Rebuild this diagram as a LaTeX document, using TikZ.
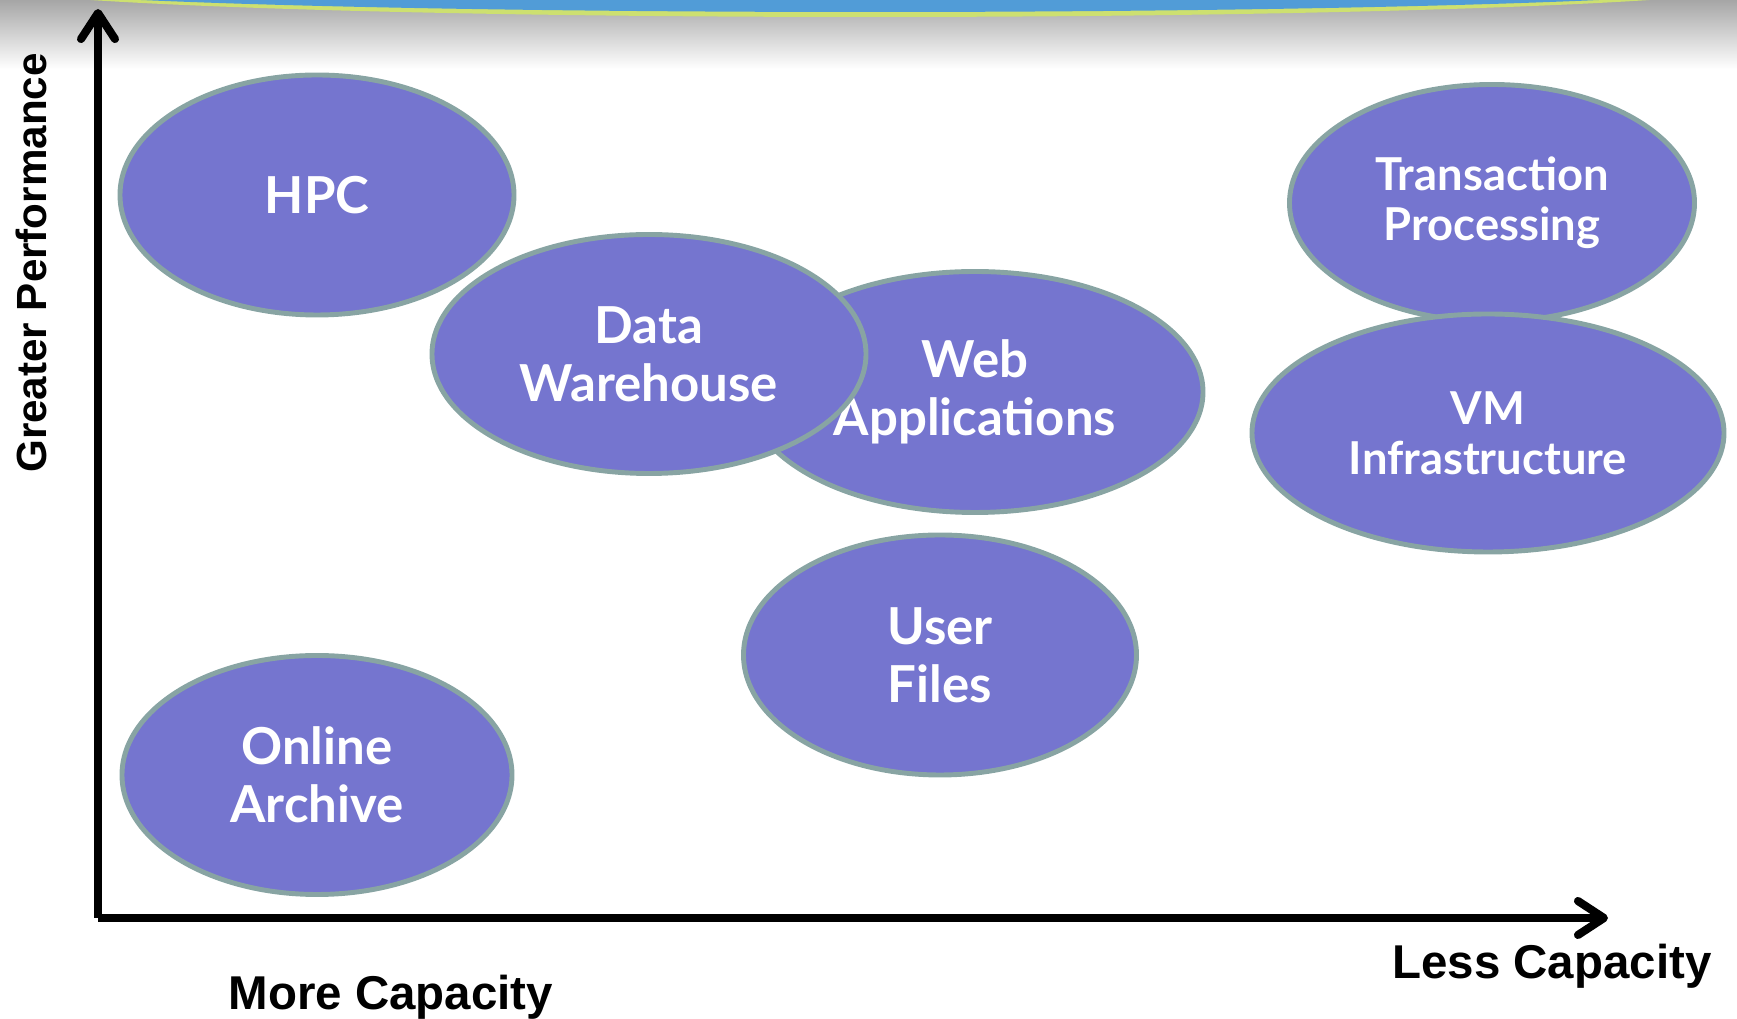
\documentclass[tikz,border=0pt]{standalone}
\usepackage{fontspec}
\setmainfont{Liberation Sans}
\newfontfamily\bubblefont{Lato}
\usepackage{xcolor}
\definecolor{colorBubble}{RGB}{117,117,207}
\definecolor{colorRim}{RGB}{136,164,163}
\definecolor{colorBar}{RGB}{81,156,215}
\definecolor{colorBarEdge}{RGB}{205,224,112}
\usepackage{tikz}
\usetikzlibrary{arrows.meta, shapes.geometric, positioning}

\begin{document}
\begin{tikzpicture}[axis/.style={line width=2.3pt, -{Straight Barb[length=2.6mm, width=3.4mm, round]}},
  bubble/.style={ellipse, draw=colorRim, fill=colorBubble, line width=1.4pt, inner sep=0pt,
    text=white, align=center, font=\bubblefont\bfseries\fontsize{14.5}{16.5}\selectfont},
  small/.style={font=\bubblefont\bfseries\fontsize{12.9}{14.2}\selectfont},
  axislabel/.style={font=\bfseries\fontsize{13.5}{15}\selectfont}]
\useasboundingbox (0,0) rectangle (17.37,10.19);
% banner at the top
\begin{scope}
\clip (0,0) rectangle (17.37,10.19);
\shade[top color=black!35, bottom color=white] (0,9.50) rectangle (17.37,10.19);
\fill[colorBarEdge] (8.70,10.36) ellipse [x radius=9.0, y radius=0.34];
\fill[colorBar] (8.70,10.36) ellipse [x radius=9.0, y radius=0.29];
\end{scope}
% bubbles
\node[bubble, minimum width=3.94cm, minimum height=2.40cm] (hpc) at (3.17,8.24) {HPC};
\node[bubble, minimum width=4.56cm, minimum height=2.41cm] (web) at (9.75,6.27) {Web\\Applications};
\node[bubble, minimum width=4.34cm, minimum height=2.39cm] (dwh) at (6.49,6.65) {Data\\Warehouse};
\node[bubble, small, minimum width=4.05cm, minimum height=2.37cm] (tp) at (14.92,8.16) {Transaction\\Processing};
\node[bubble, small, minimum width=4.72cm, minimum height=2.38cm] (vm) at (14.88,5.86) {VM\\Infrastructure};
\node[bubble, minimum width=3.93cm, minimum height=2.40cm] (uf) at (9.40,3.64) {User\\Files};
\node[bubble, minimum width=3.90cm, minimum height=2.39cm] (oa) at (3.17,2.44) {Online\\Archive};
% axes
\coordinate (origin) at (0.98,1.01);
\coordinate (ytop) at (0.98,10.10);
\coordinate (xend) at (16.08,1.01);
\draw[axis] (origin) -- (ytop);
\draw[axis] (origin) -- (xend);
\node[axislabel, font=\bfseries\fontsize{12}{14}\selectfont, rotate=90] (perf) at (0.31,7.56) {Greater Performance};
\node[axislabel, anchor=base] (more) at (3.91,0.09) {More Capacity};
\node[axislabel, anchor=base] (less) at (15.52,0.40) {Less Capacity};
\end{tikzpicture}
\end{document}
